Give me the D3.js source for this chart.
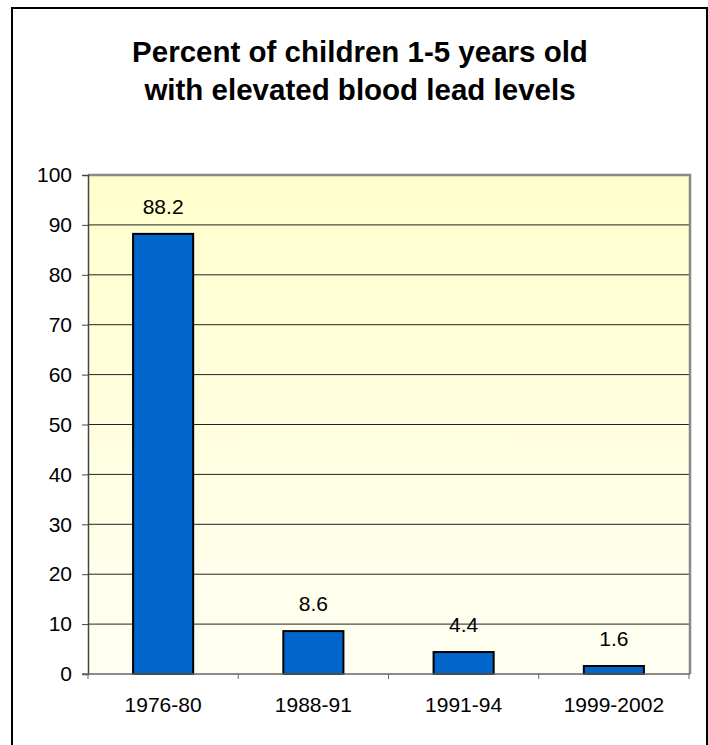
<!DOCTYPE html>
<html>
<head>
<meta charset="utf-8">
<script src="https://cdn.jsdelivr.net/npm/d3@7"></script>
<style>
  body { margin: 0; background: white; }
  text { font-family: "Liberation Sans", Arial, sans-serif; fill: #000; }
</style>
</head>
<body>
<div id="chart"></div>
<script>
const periods = ["1976-80", "1988-91", "1991-94", "1999-2002"];
const percents = [88.2, 8.6, 4.4, 1.6];
const yTicks = [0, 10, 20, 30, 40, 50, 60, 70, 80, 90, 100];
const titleLines = ["Percent of children 1-5 years old", "with elevated blood lead levels"];

const W = 708, H = 745;
const plot = { left: 88, right: 689, top: 175, bottom: 674 };

const svg = d3.select("#chart")
  .append("svg")
  .attr("width", W)
  .attr("height", H);

// outer frame
svg.append("rect")
  .attr("x", 12).attr("y", 8)
  .attr("width", 695).attr("height", 760)
  .attr("fill", "white")
  .attr("stroke", "#000")
  .attr("stroke-width", 2);

// title
svg.append("g")
  .selectAll("text")
  .data(titleLines)
  .join("text")
  .attr("x", 360)
  .attr("y", (d, i) => 62 + i * 38)
  .attr("text-anchor", "middle")
  .style("font-size", "29.5px")
  .style("font-weight", "bold")
  .text(d => d);

const x = d3.scaleBand()
  .domain(periods)
  .range([plot.left, plot.right])
  .paddingInner(0.6)
  .paddingOuter(0.3);

const y = d3.scaleLinear()
  .domain([0, 100])
  .range([plot.bottom, plot.top]);

// plot background
const grad = svg.append("defs").append("linearGradient")
  .attr("id", "bg").attr("x1", 0).attr("y1", 0).attr("x2", 0).attr("y2", 1);
grad.append("stop").attr("offset", "0%").attr("stop-color", "#ffffcc");
grad.append("stop").attr("offset", "100%").attr("stop-color", "#fffff2");

svg.append("rect")
  .attr("x", plot.left).attr("y", plot.top)
  .attr("width", plot.right - plot.left)
  .attr("height", plot.bottom - plot.top)
  .attr("fill", "url(#bg)");

// gridlines
svg.append("g")
  .selectAll("line")
  .data(yTicks.filter(d => d > 0 && d < 100))
  .join("line")
  .attr("x1", plot.left).attr("x2", plot.right)
  .attr("y1", d => y(d)).attr("y2", d => y(d))
  .attr("stroke", "#222")
  .attr("stroke-width", 1);

// plot frame top/right
svg.append("path")
  .attr("d", `M${plot.left},${plot.top}H${plot.right + 1}V${plot.bottom}`)
  .attr("fill", "none")
  .attr("stroke", "#888")
  .attr("stroke-width", 2.5);

// bars
svg.append("g")
  .selectAll("rect")
  .data(percents)
  .join("rect")
  .attr("x", (d, i) => x(periods[i]))
  .attr("y", d => y(d))
  .attr("width", x.bandwidth())
  .attr("height", d => y(0) - y(d))
  .attr("fill", "#0066cc")
  .attr("stroke", "#000")
  .attr("stroke-width", 2);

// value labels
svg.append("g")
  .selectAll("text")
  .data(percents)
  .join("text")
  .attr("x", (d, i) => x(periods[i]) + x.bandwidth() / 2)
  .attr("y", d => y(d) - 20)
  .attr("text-anchor", "middle")
  .style("font-size", "21px")
  .text(d => d);

// y axis
const yAxis = svg.append("g")
  .attr("transform", `translate(${plot.left},0)`)
  .call(d3.axisLeft(y).tickValues(yTicks).tickSize(6).tickPadding(10));
yAxis.select(".domain").attr("stroke", "#444").attr("stroke-width", 1.5);
yAxis.selectAll(".tick line").attr("stroke", "#444");
yAxis.selectAll(".tick text")
  .attr("fill", "#000")
  .style("font-size", "21px")
  .style("font-family", '"Liberation Sans", Arial, sans-serif');

// x axis
svg.append("line")
  .attr("x1", plot.left - 6).attr("x2", plot.right + 1)
  .attr("y1", plot.bottom).attr("y2", plot.bottom)
  .attr("stroke", "#666")
  .attr("stroke-width", 1.5);

svg.append("g")
  .selectAll("line")
  .data(d3.range(periods.length + 1))
  .join("line")
  .attr("x1", i => plot.left + i * x.step())
  .attr("x2", i => plot.left + i * x.step())
  .attr("y1", plot.bottom).attr("y2", plot.bottom + 5)
  .attr("stroke", "#666");

svg.append("g")
  .selectAll("text")
  .data(periods)
  .join("text")
  .attr("x", d => x(d) + x.bandwidth() / 2)
  .attr("y", plot.bottom + 38)
  .attr("text-anchor", "middle")
  .style("font-size", "21px")
  .text(d => d);
</script>
</body>
</html>
